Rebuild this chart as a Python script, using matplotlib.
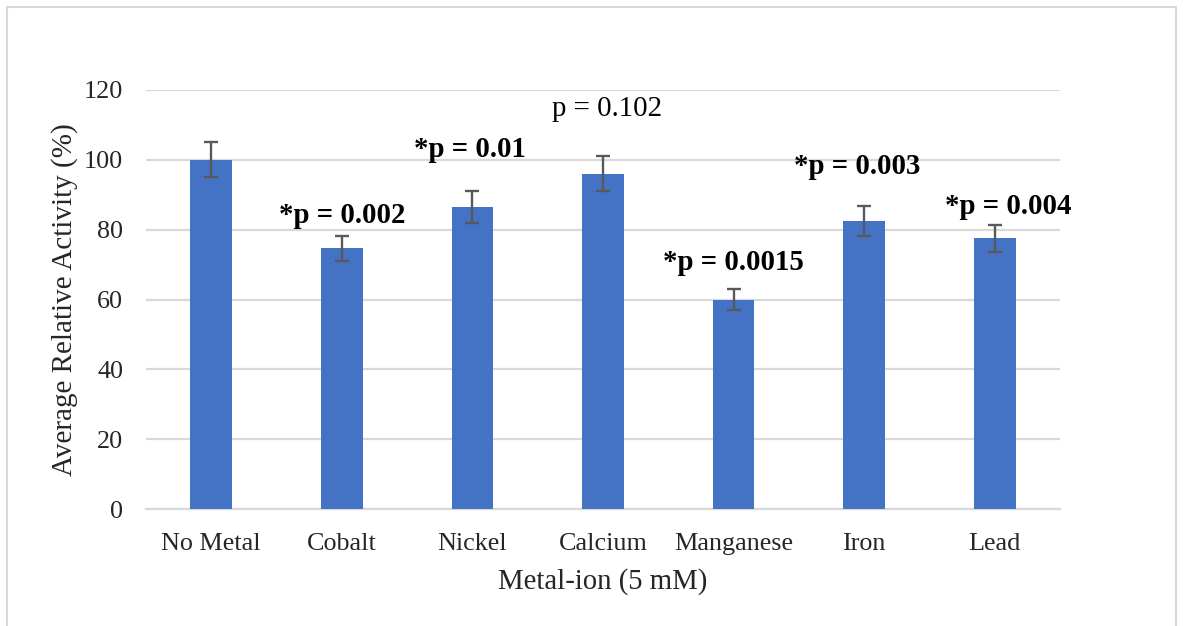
import matplotlib
matplotlib.use("Agg")
import matplotlib.pyplot as plt
from matplotlib.patches import Rectangle

# Data
metals = ["No Metal", "Cobalt", "Nickel", "Calcium", "Manganese", "Iron", "Lead"]
activity = [100.0, 74.7, 86.5, 96.0, 60.0, 82.5, 77.5]
errors = [5.0, 3.6, 4.6, 5.0, 3.0, 4.2, 3.9]
p_labels = ["", "*p = 0.002", "*p = 0.01", "p = 0.102", "*p = 0.0015", "*p = 0.003", "*p = 0.004"]
p_bold = [False, True, True, False, True, True, True]
p_label_y = [None, 84.0, 103.0, 114.5, 70.5, 98.0, 86.5]
p_label_dx = [0.0, 0.0, -0.02, 0.03, 0.0, -0.05, 0.1]
y_ticks = [0, 20, 40, 60, 80, 100, 120]

plt.rcParams["font.family"] = ["Liberation Serif", "DejaVu Serif"]

fig = plt.figure(figsize=(11.84, 6.26), dpi=100)
fig.patch.set_facecolor("white")

# light frame around the chart area
fig.add_artist(Rectangle((7 / 1184, -0.05), 1169 / 1184, 1.05 - 7 / 626,
                         transform=fig.transFigure, fill=False,
                         edgecolor="#D9D9D9", linewidth=1.5))

ax = fig.add_axes([146 / 1184, 117 / 626, 914 / 1184, 419 / 626])
x = list(range(len(metals)))
ax.bar(x, activity, width=0.32, color="#4472C4", zorder=3)
ax.errorbar(x, activity, yerr=errors, fmt="none", ecolor="#595959",
            elinewidth=1.7, capsize=4.7, capthick=1.7, zorder=4)

for i, (lab, bold, yl, dx) in enumerate(zip(p_labels, p_bold, p_label_y, p_label_dx)):
    if lab:
        ax.text(i + dx, yl, lab, ha="center", va="center", fontsize=20.8,
                fontweight="bold" if bold else "normal", color="black", zorder=5)

ax.set_xlim(-0.5, len(metals) - 0.5)
ax.set_ylim(0, 120)
ax.set_yticks(y_ticks)
ax.set_xticks(x)
ax.set_xticklabels(metals)
ax.tick_params(axis="both", length=0, labelsize=18.8, colors="#262626")
ax.tick_params(axis="y", pad=16.5)
ax.tick_params(axis="x", pad=17)
ax.yaxis.grid(True, color="#D9D9D9", linewidth=1.6, zorder=0)
ax.set_axisbelow(True)
for side in ["top", "right", "left"]:
    ax.spines[side].set_visible(False)
ax.spines["bottom"].set_color("#D9D9D9")
ax.spines["bottom"].set_linewidth(1.6)

ax.set_ylabel("Average Relative Activity (%)", fontsize=21, color="#262626", labelpad=4)
ax.set_xlabel("Metal-ion (5 mM)", fontsize=20.7, color="#262626", labelpad=10)

fig.savefig("out.png", dpi=100, facecolor="white")
